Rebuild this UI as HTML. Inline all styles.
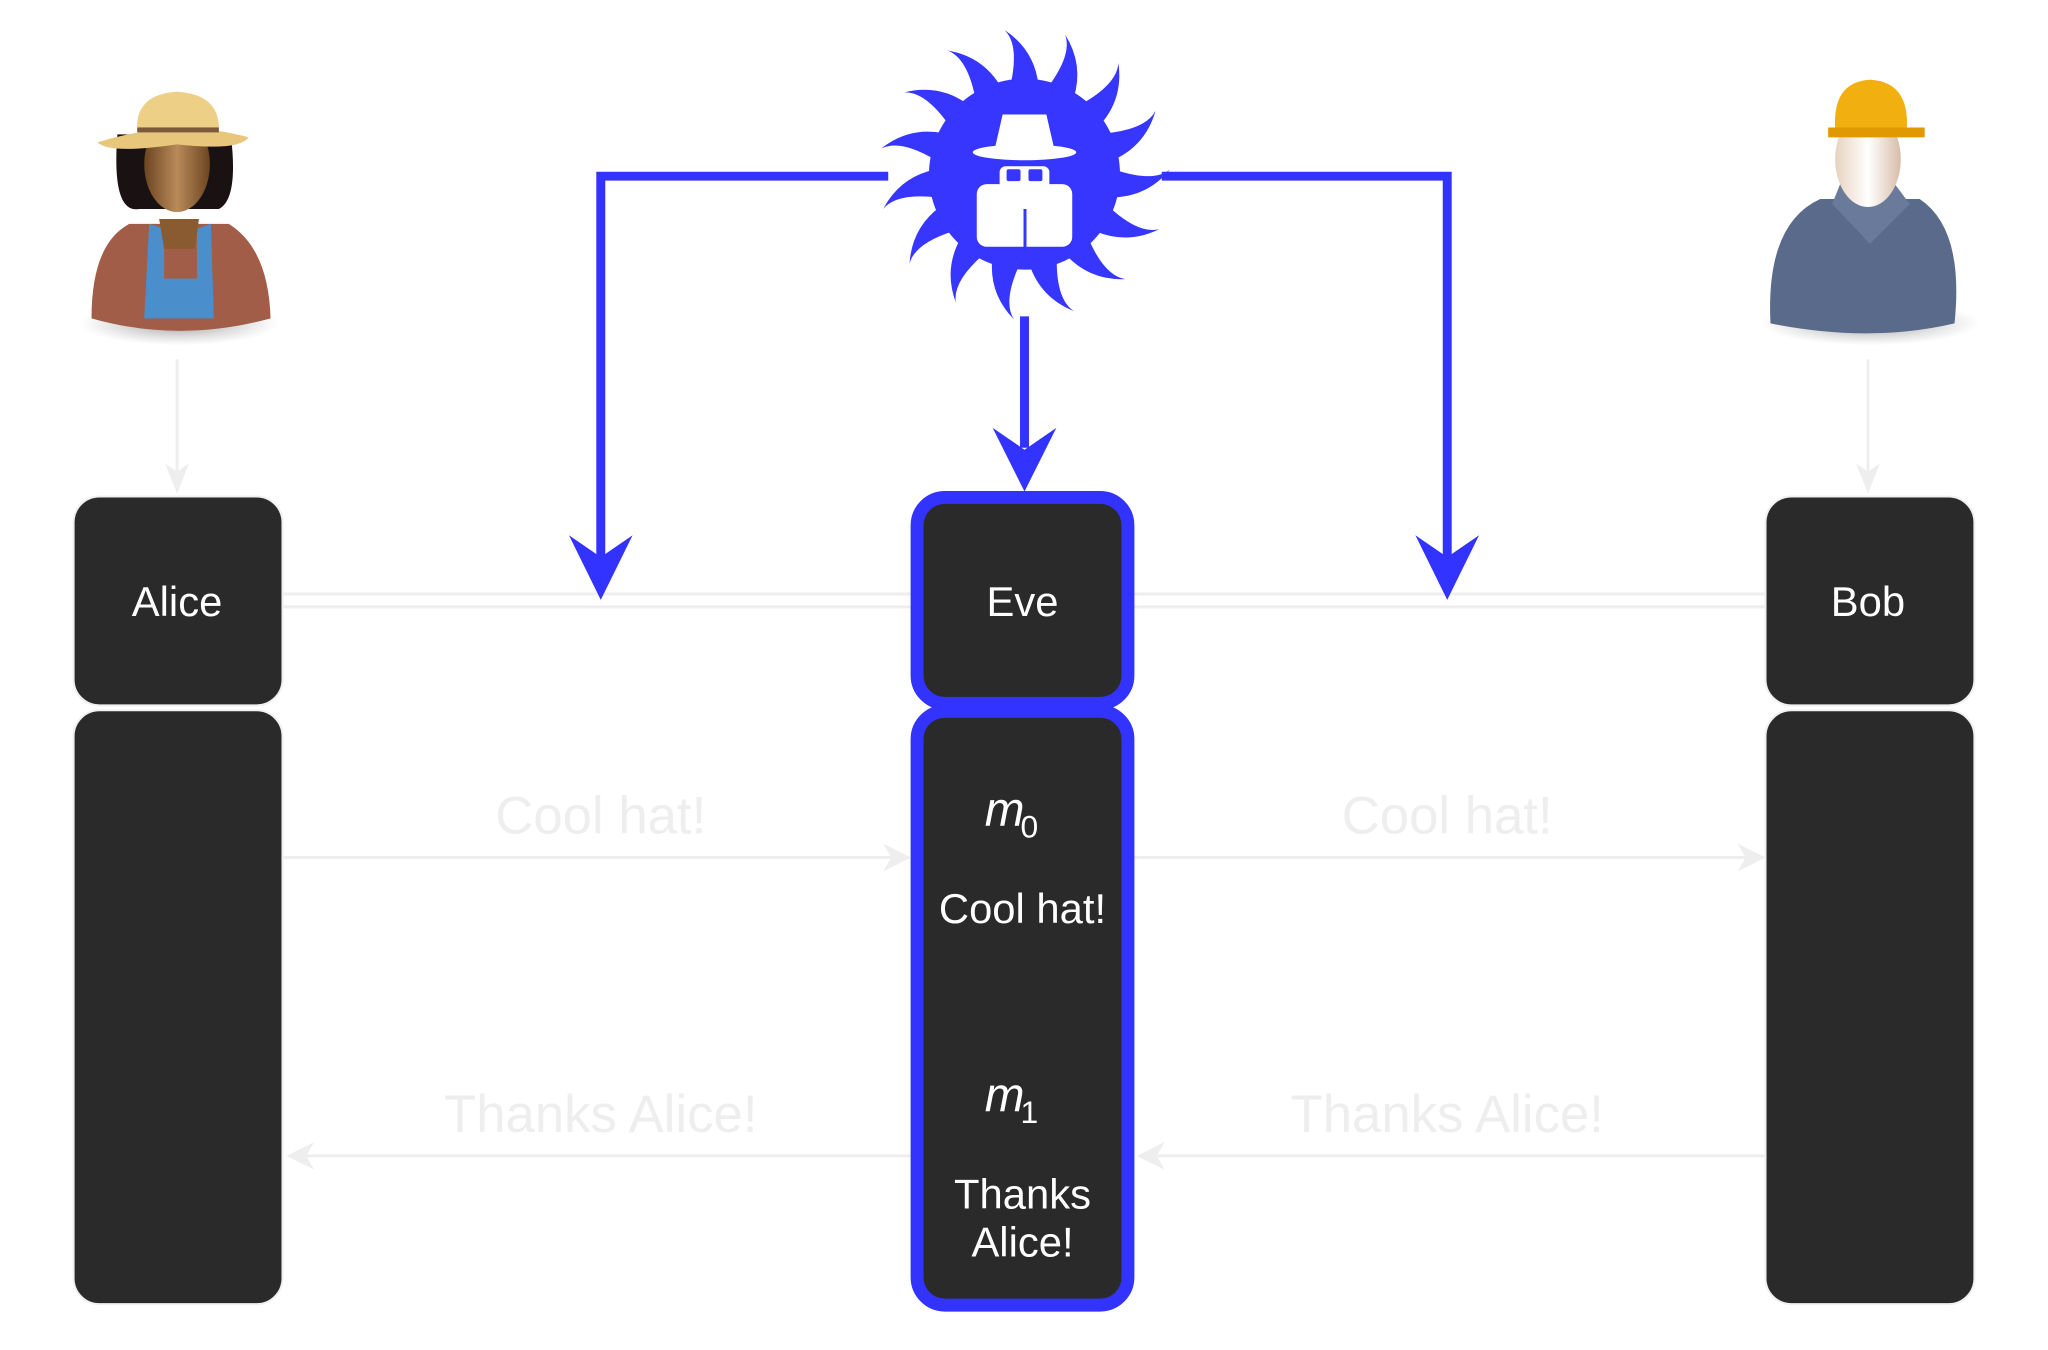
<!DOCTYPE html>
<html><head><meta charset="utf-8"><style>
html,body{margin:0;padding:0;background:#fff;}
svg{display:block;}
text{font-family:"Liberation Sans",sans-serif;}
</style></head><body>
<svg width="2048" height="1350" viewBox="0 0 2059 1357" xmlns="http://www.w3.org/2000/svg">
<defs>
<radialGradient id="sh" cx="0.5" cy="0.5" r="0.5"><stop offset="0" stop-color="#555" stop-opacity="0.6"/><stop offset="1" stop-color="#888" stop-opacity="0"/></radialGradient>
<linearGradient id="face" x1="0" x2="1"><stop offset="0" stop-color="#6b4520"/><stop offset="0.5" stop-color="#b98a5a"/><stop offset="1" stop-color="#6b4520"/></linearGradient>
<linearGradient id="bface" x1="0" x2="1"><stop offset="0" stop-color="#e8d2c0"/><stop offset="0.5" stop-color="#fff"/><stop offset="1" stop-color="#d8bca8"/></linearGradient>
</defs>

<g stroke="#eeeeee" stroke-width="3">
<line x1="284" y1="597" x2="916" y2="597"/><line x1="284" y1="610" x2="916" y2="610"/>
<line x1="1140" y1="597" x2="1775" y2="597"/><line x1="1140" y1="610" x2="1775" y2="610"/>
<line x1="284" y1="862" x2="905" y2="862"/><line x1="1140" y1="862" x2="1765" y2="862"/>
<line x1="295" y1="1162" x2="916" y2="1162"/><line x1="1152" y1="1162" x2="1775" y2="1162"/>
<line x1="178" y1="361" x2="178" y2="490"/><line x1="1878" y1="361" x2="1878" y2="490"/>
</g>
<g fill="#eeeeee">
<path d="M916 862 L888 848 L896 862 L888 876Z"/>
<path d="M1775 862 L1747 848 L1755 862 L1747 876Z"/>
<path d="M288 1162 L316 1148 L308 1162 L316 1176Z"/>
<path d="M1143 1162 L1171 1148 L1163 1162 L1171 1176Z"/>
<path d="M178 496 L166 466 L178 474 L190 466Z"/>
<path d="M1878 496 L1866 466 L1878 474 L1890 466Z"/>
</g>
<g fill="#eeeeee" font-size="53" text-anchor="middle">
<text x="604" y="838">Cool hat!</text>
<text x="1455" y="838">Cool hat!</text>
<text x="604" y="1138">Thanks Alice!</text>
<text x="1455" y="1138">Thanks Alice!</text>
</g>

<g fill="#2a2a2a" stroke="#f0f0f0" stroke-width="2">
<rect x="74" y="499" width="210" height="210" rx="26"/>
<rect x="74" y="714" width="210" height="597" rx="26"/>
<rect x="1775" y="499" width="210" height="210" rx="26"/>
<rect x="1775" y="714" width="210" height="597" rx="26"/>
</g>
<g fill="#2a2a2a" stroke="#3333ff" stroke-width="13">
<rect x="922" y="500" width="212" height="207" rx="28"/>
<rect x="922" y="715" width="212" height="597" rx="28"/>
</g>
<g fill="#fff" font-size="42" text-anchor="middle">
<text x="178" y="619">Alice</text>
<text x="1028" y="619">Eve</text>
<text x="1878" y="619">Bob</text>
<text x="1028" y="928">Cool hat!</text>
<text x="1028" y="1215">Thanks</text>
<text x="1028" y="1263">Alice!</text>
</g>
<g fill="#fff" font-family="Liberation Serif,serif" font-style="italic">
<text x="990" y="830" font-size="48">m</text><text x="1026" y="842" font-size="32" font-style="normal">0</text>
<text x="990" y="1117" font-size="48">m</text><text x="1026" y="1129" font-size="32" font-style="normal">1</text>
</g>

<g stroke="#3333ff" stroke-width="9" fill="none">
<polyline points="893,177 604,177 604,565"/>
<polyline points="1168,177 1455,177 1455,565"/>
<line x1="1030" y1="318" x2="1030" y2="450"/>
</g>
<g fill="#3333ff">
<path d="M604 603 L572 538 L604 560 L636 538Z"/>
<path d="M1455 603 L1423 538 L1455 560 L1487 538Z"/>
<path d="M1030 494 L998 430 L1030 452 L1062 430Z"/>
</g>

<g transform="translate(1030,175)" fill="#3636ff">
<circle r="96"/>
<g id="sp">
<path d="M-14,-90 Q-5,-130 -20,-145 Q10,-125 14,-90Z"/>
</g>
<use href="#sp" transform="rotate(24)"/><use href="#sp" transform="rotate(48)"/><use href="#sp" transform="rotate(72)"/>
<use href="#sp" transform="rotate(96)"/><use href="#sp" transform="rotate(120)"/><use href="#sp" transform="rotate(144)"/>
<use href="#sp" transform="rotate(168)"/><use href="#sp" transform="rotate(192)"/><use href="#sp" transform="rotate(216)"/>
<use href="#sp" transform="rotate(240)"/><use href="#sp" transform="rotate(264)"/><use href="#sp" transform="rotate(288)"/>
<use href="#sp" transform="rotate(312)"/><use href="#sp" transform="rotate(336)"/>
<g fill="#fff">
<path d="M-22,-60 L22,-60 L30,-25 L-30,-25Z"/>
<ellipse cx="0" cy="-22" rx="52" ry="8"/>
<rect x="-48" y="10" width="96" height="63" rx="10"/>
<rect x="-25" y="-8" width="50" height="34" rx="6"/>
</g>
<g fill="#3636ff"><rect x="-18" y="-5" width="14" height="12" rx="2"/><rect x="4" y="-5" width="14" height="12" rx="2"/><rect x="-1" y="35" width="3" height="40"/></g>
</g>

<g>
<ellipse cx="180" cy="325" rx="100" ry="22" fill="url(#sh)"/>
<path d="M92,320 Q92,245 130,225 L230,225 Q270,250 272,320 Q180,345 92,320Z" fill="#a25d48"/>
<path d="M150,225 L145,320 L215,320 L212,225 L198,230 L198,280 L165,280 L165,230Z" fill="#4a8fcc"/>
<path d="M118,135 Q112,215 140,210 L220,210 Q240,200 232,135Z" fill="#1a1212"/>
<path d="M160,220 L200,220 L196,250 L165,250Z" fill="#8a5a30"/>
<ellipse cx="178" cy="165" rx="33" ry="48" fill="url(#face)"/>
<path d="M138,132 Q135,95 178,92 Q222,95 220,132Z" fill="#edcf86"/>
<path d="M98,143 Q178,118 250,138 Q240,152 178,145 Q110,155 98,143Z" fill="#e8c77c"/>
<rect x="138" y="128" width="82" height="5" fill="#7a5a3a"/>
</g>

<g>
<ellipse cx="1880" cy="325" rx="110" ry="22" fill="url(#sh)"/>
<path d="M1780,325 Q1775,225 1830,200 L1930,200 Q1975,230 1965,325 Q1880,345 1780,325Z" fill="#5a6a8a"/>
<path d="M1850,185 L1905,185 L1920,205 L1880,245 L1842,205Z" fill="#6a7a9a"/>
<ellipse cx="1878" cy="160" rx="33" ry="48" fill="url(#bface)"/>
<path d="M1845,130 Q1842,82 1880,80 Q1920,82 1917,130Z" fill="#f2b010"/>
<path d="M1838,128 L1935,128 L1935,138 L1838,138Z" fill="#e09a00"/>
</g>
</svg>
</body></html>
